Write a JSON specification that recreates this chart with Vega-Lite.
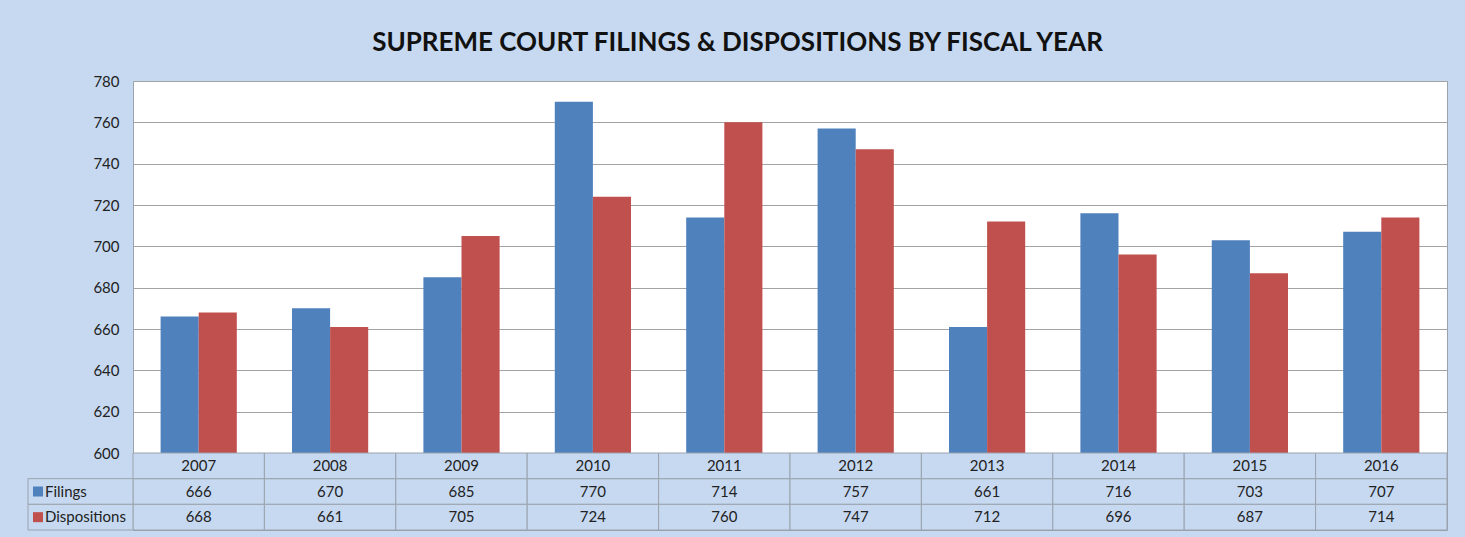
{
  "$schema": "https://vega.github.io/schema/vega-lite/v6.json",
  "width": 1314,
  "height": 449,
  "autosize": {"type": "none"},
  "padding": {"left": 133, "top": 81, "right": 18, "bottom": 7},
  "background": "#c6d9f1",
  "title": {
    "text": "SUPREME COURT FILINGS & DISPOSITIONS BY FISCAL YEAR",
    "font": "Lato",
    "fontSize": 26,
    "fontWeight": "bold",
    "color": "#111111",
    "anchor": "middle",
    "frame": "bounds",
    "offset": 18
  },
  "data": {
    "values": [
      {"year": "2007", "series": "Filings", "value": 666},
      {"year": "2008", "series": "Filings", "value": 670},
      {"year": "2009", "series": "Filings", "value": 685},
      {"year": "2010", "series": "Filings", "value": 770},
      {"year": "2011", "series": "Filings", "value": 714},
      {"year": "2012", "series": "Filings", "value": 757},
      {"year": "2013", "series": "Filings", "value": 661},
      {"year": "2014", "series": "Filings", "value": 716},
      {"year": "2015", "series": "Filings", "value": 703},
      {"year": "2016", "series": "Filings", "value": 707},
      {"year": "2007", "series": "Dispositions", "value": 668},
      {"year": "2008", "series": "Dispositions", "value": 661},
      {"year": "2009", "series": "Dispositions", "value": 705},
      {"year": "2010", "series": "Dispositions", "value": 724},
      {"year": "2011", "series": "Dispositions", "value": 760},
      {"year": "2012", "series": "Dispositions", "value": 747},
      {"year": "2013", "series": "Dispositions", "value": 712},
      {"year": "2014", "series": "Dispositions", "value": 696},
      {"year": "2015", "series": "Dispositions", "value": 687},
      {"year": "2016", "series": "Dispositions", "value": 714}
    ]
  },
  "layer": [
    {
      "mark": {"type": "bar"},
      "encoding": {
        "x": {"field": "year", "type": "nominal", "scale": {"paddingInner": 0.42, "paddingOuter": 0.21}, "axis": null},
        "xOffset": {"field": "series", "type": "nominal", "scale": {"domain": ["Filings", "Dispositions"]}},
        "y": {
          "field": "value",
          "type": "quantitative",
          "scale": {"domain": [600, 780], "range": [372, 0], "nice": false, "zero": false},
          "axis": {
            "title": null,
            "values": [600, 620, 640, 660, 680, 700, 720, 740, 760, 780],
            "grid": true,
            "gridColor": "#a3a3a3",
            "gridWidth": 1,
            "ticks": false,
            "domain": false,
            "labelPadding": 14,
            "labelFont": "Lato",
            "labelFontSize": 15,
            "labelColor": "#222222"
          }
        },
        "y2": {"datum": 600},
        "color": {
          "field": "series",
          "type": "nominal",
          "scale": {"domain": ["Filings", "Dispositions"], "range": ["#4f81bd", "#c0504d"]},
          "legend": null
        }
      }
    },
    {
      "layer": [
        {
          "mark": {"type": "rect", "fill": "#c6d9f1", "stroke": "#9aa3ad", "strokeWidth": 1},
          "encoding": {
            "x": {"field": "year", "type": "nominal", "scale": {"paddingInner": 0, "paddingOuter": 0}, "axis": null},
            "y": {"field": "series", "type": "nominal", "scale": {"domain": ["Year", "Filings", "Dispositions"], "range": [372, 449], "paddingInner": 0, "paddingOuter": 0}, "axis": null}
          }
        },
        {
          "transform": [{"filter": "datum.series === 'Filings'"}],
          "mark": {"type": "rect", "fill": "#c6d9f1", "stroke": "#9aa3ad", "strokeWidth": 1},
          "encoding": {
            "x": {"field": "year", "type": "nominal"},
            "y": {"datum": "Year", "type": "nominal"}
          }
        },
        {
          "mark": {"type": "text", "font": "Lato", "fontSize": 15, "color": "#222222"},
          "encoding": {
            "x": {"field": "year", "type": "nominal"},
            "y": {"field": "series", "type": "nominal"},
            "text": {"field": "value", "type": "quantitative"}
          }
        },
        {
          "transform": [{"filter": "datum.series === 'Filings'"}],
          "mark": {"type": "text", "font": "Lato", "fontSize": 15, "color": "#222222"},
          "encoding": {
            "x": {"field": "year", "type": "nominal"},
            "y": {"datum": "Year", "type": "nominal"},
            "text": {"field": "year", "type": "nominal"}
          }
        }
      ]
    },
    {
      "transform": [{"filter": "datum.year === '2007'"}],
      "layer": [
        {
          "mark": {"type": "rect", "fill": "#c6d9f1", "stroke": "#9aa3ad", "strokeWidth": 1},
          "encoding": {
            "x": {"datum": "label", "type": "nominal", "scale": {"domain": ["label"], "range": [-105, 0], "paddingInner": 0, "paddingOuter": 0}, "axis": null},
            "y": {"field": "series", "type": "nominal", "scale": {"domain": ["Year", "Filings", "Dispositions"], "range": [372, 449], "paddingInner": 0, "paddingOuter": 0}, "axis": null}
          }
        },
        {
          "mark": {"type": "point", "shape": "square", "filled": true, "size": 100, "opacity": 1, "xOffset": -42.5},
          "encoding": {
            "x": {"datum": "label", "type": "nominal"},
            "y": {"field": "series", "type": "nominal"},
            "color": {"field": "series", "type": "nominal", "legend": null}
          }
        },
        {
          "mark": {"type": "text", "font": "Lato", "fontSize": 15, "color": "#222222", "align": "left", "dx": -35.5},
          "encoding": {
            "x": {"datum": "label", "type": "nominal"},
            "y": {"field": "series", "type": "nominal"},
            "text": {"field": "series", "type": "nominal"}
          }
        }
      ]
    }
  ],
  "resolve": {"scale": {"x": "independent", "y": "independent"}},
  "config": {
    "view": {"fill": "white", "stroke": "#9aa3ad", "strokeWidth": 1}
  }
}
